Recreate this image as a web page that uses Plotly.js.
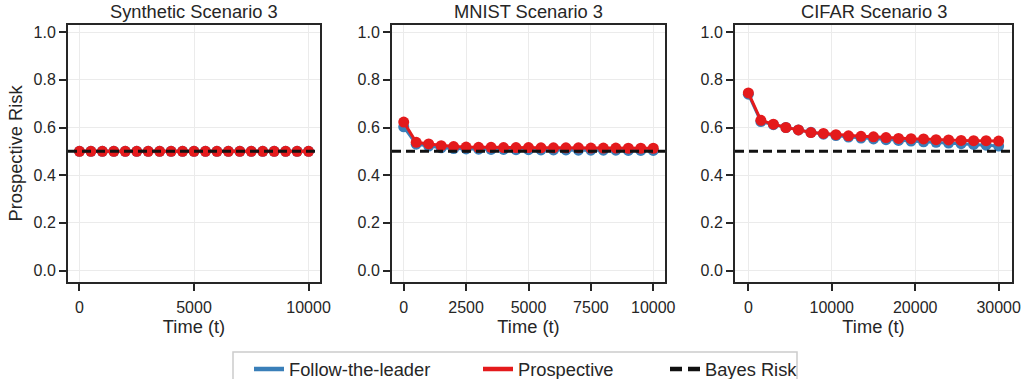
<!DOCTYPE html>
<html>
<head>
<meta charset="utf-8">
<script src="https://cdn.plot.ly/plotly-3.0.1.min.js"></script>
<style>html,body{margin:0;padding:0;background:#fff;}#chart{width:1023px;height:379px;}</style>
</head>
<body>
<div id="chart"></div>
<script>
// ---- data ----
const panelTitles = ["Synthetic Scenario 3", "MNIST Scenario 3", "CIFAR Scenario 3"];
const seriesNames = ["Follow-the-leader", "Prospective", "Bayes Risk"];
const bayesRisk = 0.5;

const synthTime = [0,500,1000,1500,2000,2500,3000,3500,4000,4500,5000,5500,6000,6500,7000,7500,8000,8500,9000,9500,10000];
const synthFTL  = [0.5,0.5,0.5,0.5,0.5,0.5,0.5,0.5,0.5,0.5,0.5,0.5,0.5,0.5,0.5,0.5,0.5,0.5,0.5,0.5,0.5];
const synthPros = [0.5,0.5,0.5,0.5,0.5,0.5,0.5,0.5,0.5,0.5,0.5,0.5,0.5,0.5,0.5,0.5,0.5,0.5,0.5,0.5,0.5];

const mnistTime = [0,500,1000,1500,2000,2500,3000,3500,4000,4500,5000,5500,6000,6500,7000,7500,8000,8500,9000,9500,10000];
const mnistFTL  = [0.603,0.530,0.522,0.515,0.512,0.510,0.509,0.508,0.508,0.507,0.507,0.506,0.506,0.506,0.505,0.505,0.505,0.505,0.504,0.504,0.504];
const mnistPros = [0.623,0.538,0.531,0.524,0.520,0.518,0.517,0.517,0.516,0.516,0.516,0.515,0.515,0.515,0.515,0.514,0.514,0.514,0.513,0.513,0.513];

const cifarTime = [0,1500,3000,4500,6000,7500,9000,10500,12000,13500,15000,16500,18000,19500,21000,22500,24000,25500,27000,28500,30000];
const cifarFTL  = [0.740,0.625,0.612,0.600,0.590,0.580,0.572,0.566,0.560,0.556,0.552,0.549,0.546,0.543,0.540,0.538,0.535,0.532,0.529,0.526,0.522];
const cifarPros = [0.745,0.630,0.614,0.600,0.590,0.579,0.575,0.570,0.565,0.563,0.561,0.558,0.554,0.553,0.552,0.549,0.548,0.546,0.545,0.545,0.543];

const xTicks = [[0,5000,10000],[0,2500,5000,7500,10000],[0,10000,20000,30000]];
const yTicks = [0,0.2,0.4,0.6,0.8,1.0];
const xRanges = [[-500,10500],[-470,10470],[-1600,31600]];
const yRange = [-0.048,1.03];

// ---- style ----
const BLUE = "#3a7fb9", RED = "#e41a1c", INK = "#262626";
const FONT = "Liberation Sans, Arial, sans-serif";
const times = [synthTime, mnistTime, cifarTime];
const ftl = [synthFTL, mnistFTL, cifarFTL];
const pros = [synthPros, mnistPros, cifarPros];
const domains = [[68/1023, 320/1023],[392/1023, 665/1023],[735/1023, 1012/1023]];
const yDom = [1-282/379, 1-25/379];

const traces = [];
const layout = {
  width: 1023, height: 379,
  margin: {l:0, r:0, t:0, b:0, autoexpand: false},
  paper_bgcolor: "#fff", plot_bgcolor: "#fff",
  font: {family: FONT, color: INK, size: 16},
  showlegend: true,
  annotations: [], shapes: []
};

for (let i = 0; i < 3; i++) {
  const sfx = i === 0 ? "" : String(i+1);
  const xa = "x" + sfx, ya = "y" + sfx;
  traces.push({
    x: times[i], y: ftl[i], xaxis: xa, yaxis: ya, type: "scatter", mode: "lines+markers",
    name: seriesNames[0], showlegend: false,
    line: {color: BLUE, width: 3}, marker: {color: BLUE, size: 11}
  });
  traces.push({
    x: times[i], y: pros[i], xaxis: xa, yaxis: ya, type: "scatter", mode: "lines+markers",
    name: seriesNames[1], showlegend: false,
    line: {color: RED, width: 3}, marker: {color: RED, size: 11}
  });
  traces.push({
    x: xRanges[i], y: [bayesRisk, bayesRisk], xaxis: xa, yaxis: ya, type: "scatter", mode: "lines",
    name: seriesNames[2], showlegend: false,
    line: {color: "#111", width: 3, dash: "9px,5px"}
  });
  layout["xaxis" + sfx] = {
    domain: domains[i], anchor: ya, range: xRanges[i], automargin: false,
    tickvals: xTicks[i], ticktext: xTicks[i].map(String),
    ticks: "outside", ticklen: 7, tickwidth: 2, tickcolor: INK,
    showline: true, linewidth: 2, linecolor: INK, mirror: true,
    showgrid: true, gridcolor: "#ebebeb", gridwidth: 1, zeroline: false,
    tickfont: {size: 16, color: INK}, ticklabelstandoff: 3,
    title: {text: "Time (t)", font: {size: 18.3, color: INK}, standoff: 3}
  };
  layout["yaxis" + sfx] = {
    domain: yDom, anchor: xa, range: yRange, automargin: false,
    tickvals: yTicks, tickformat: ".1f",
    ticks: "outside", ticklen: 7, tickwidth: 2, tickcolor: INK,
    showline: true, linewidth: 2, linecolor: INK, mirror: true,
    showgrid: true, gridcolor: "#ebebeb", gridwidth: 1, zeroline: false,
    tickfont: {size: 16, color: INK},
    title: i === 0 ? {text: "Prospective Risk", font: {size: 18.3, color: INK}, standoff: 6} : {text: ""}
  };
  layout.annotations.push({
    text: panelTitles[i], xref: "paper", yref: "paper",
    x: (domains[i][0] + domains[i][1]) / 2, y: yDom[1], yshift: 1,
    xanchor: "center", yanchor: "bottom", showarrow: false,
    font: {size: 18.3, color: INK}
  });
}

// legend-only entries (lines only, as in the reference)
traces.push({x: [null], y: [null], type: "scatter", mode: "lines", name: seriesNames[0],
  legend: "legend", showlegend: true, line: {color: BLUE, width: 4.5}});
traces.push({x: [null], y: [null], type: "scatter", mode: "lines", name: seriesNames[1],
  legend: "legend2", showlegend: true, line: {color: RED, width: 4.5}});
traces.push({x: [null], y: [null], type: "scatter", mode: "lines", name: seriesNames[2],
  legend: "legend3", showlegend: true, line: {color: "#111", width: 4.5, dash: "12px,6px"}});

// legend frame
layout.shapes.push({
  type: "rect", xref: "paper", yref: "paper",
  x0: 233/1023, x1: 797/1023, y0: 1 - 392/379, y1: 1 - 352/379,
  line: {color: "#cccccc", width: 1.5}, fillcolor: "rgba(255,255,255,0)"
});
const legBase = {orientation: "h", yanchor: "middle", y: 1 - 369/379, xanchor: "left",
  bgcolor: "rgba(0,0,0,0)", borderwidth: 0, font: {size: 18.3, color: INK}};
layout.legend  = Object.assign({}, legBase, {x: 249/1023});
layout.legend2 = Object.assign({}, legBase, {x: 478/1023});
layout.legend3 = Object.assign({}, legBase, {x: 665/1023});

Plotly.newPlot("chart", traces, layout, {displayModeBar: false, staticPlot: true});
</script>
</body>
</html>
